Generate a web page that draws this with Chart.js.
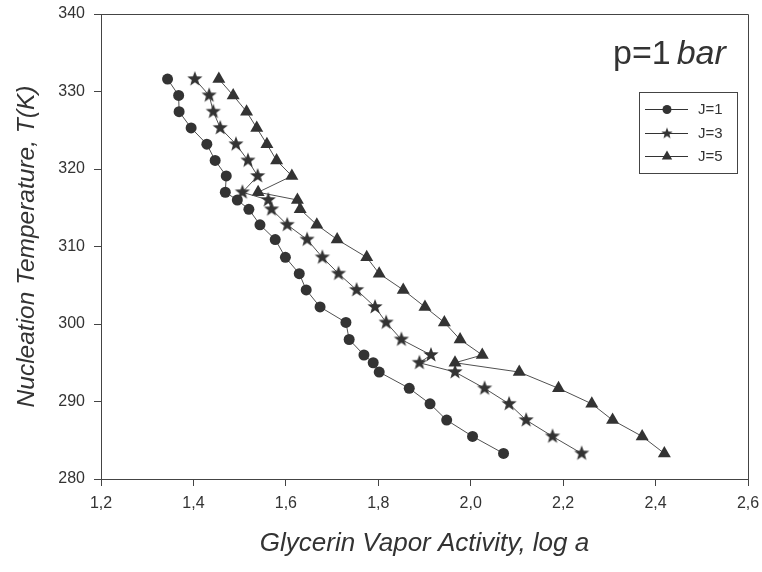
<!DOCTYPE html>
<html>
<head>
<meta charset="utf-8">
<script src="https://cdn.jsdelivr.net/npm/chart.js"></script>
<style>
  html, body { margin: 0; padding: 0; background: #ffffff; }
  #wrap { position: relative; width: 762px; height: 572px; }
</style>
</head>
<body>
<div id="wrap"><canvas id="c" width="762" height="572"></canvas></div>
<script>
// ---- Data ----
const seriesLabels = ['J=1', 'J=3', 'J=5'];
const temperatures = [331.6, 329.5, 327.4, 325.3, 323.2, 321.1, 319.1, 317.0, 316.0, 314.8,
                      312.8, 310.9, 308.6, 306.5, 304.4, 302.2, 300.2, 298.0, 296.0, 295.0,
                      293.8, 291.7, 289.7, 287.6, 285.5, 283.3];
const activityJ1 = [1.344, 1.368, 1.369, 1.395, 1.429, 1.447, 1.471, 1.469, 1.495, 1.520,
                    1.544, 1.577, 1.599, 1.629, 1.644, 1.674, 1.730, 1.737, 1.769, 1.789,
                    1.802, 1.867, 1.912, 1.948, 2.004, 2.071];
const activityJ3 = [1.403, 1.434, 1.443, 1.458, 1.492, 1.518, 1.539, 1.506, 1.562, 1.569,
                    1.603, 1.646, 1.679, 1.714, 1.753, 1.793, 1.817, 1.850, 1.914, 1.889,
                    1.966, 2.030, 2.083, 2.120, 2.177, 2.240];
const activityJ5 = [1.455, 1.486, 1.515, 1.537, 1.559, 1.580, 1.613, 1.540, 1.625, 1.631,
                    1.667, 1.711, 1.775, 1.802, 1.854, 1.901, 1.943, 1.977, 2.025, 1.966,
                    2.105, 2.190, 2.262, 2.307, 2.371, 2.419];
const xTicks = [1.2, 1.4, 1.6, 1.8, 2.0, 2.2, 2.4, 2.6];
const yTicks = [280, 290, 300, 310, 320, 330, 340];

// ---- Styles ----
const MARK = '#333333';
const LINE = '#505050';
const AXIS = '#444444';
const TEXT = '#333333';
const FONT = "'Liberation Sans', Arial, sans-serif";

function makeStar(size, outer, inner, color) {
  const c = document.createElement('canvas');
  c.width = size; c.height = size;
  const g = c.getContext('2d');
  const cx = size / 2, cy = size / 2;
  g.beginPath();
  for (let i = 0; i < 10; i++) {
    const r = i % 2 === 0 ? outer : inner;
    const a = -Math.PI / 2 + i * Math.PI / 5;
    const px = cx + r * Math.cos(a), py = cy + r * Math.sin(a);
    if (i === 0) g.moveTo(px, py); else g.lineTo(px, py);
  }
  g.closePath();
  g.fillStyle = color;
  g.fill();
  return c;
}
const starImg = makeStar(18, 8, 3.3, MARK);
const starSmall = makeStar(14, 6, 2.5, MARK);

function toPoints(xs) { return xs.map((x, i) => ({ x: x, y: temperatures[i] })); }

const styles = [
  { pointStyle: 'circle', radius: 5.5 },
  { pointStyle: starImg, radius: 8 },
  { pointStyle: 'triangle', radius: 7.5 }
];
const seriesX = [activityJ1, activityJ3, activityJ5];

const datasets = seriesX.map((xs, i) => ({
  label: seriesLabels[i],
  data: toPoints(xs),
  showLine: true,
  borderColor: LINE,
  borderWidth: 1,
  tension: 0,
  pointStyle: styles[i].pointStyle,
  pointRadius: styles[i].radius,
  pointBackgroundColor: MARK,
  pointBorderColor: MARK,
  pointBorderWidth: 0,
  clip: false
}));

const decorPlugin = {
  id: 'decor',
  afterDraw(chart) {
    const ctx = chart.ctx;
    const a = chart.chartArea;
    ctx.save();
    // top and right frame lines
    ctx.strokeStyle = AXIS;
    ctx.lineWidth = 1;
    ctx.beginPath();
    ctx.moveTo(Math.round(a.left) + 0.5, Math.round(a.top) + 0.5);
    ctx.lineTo(Math.round(a.right) + 0.5, Math.round(a.top) + 0.5);
    ctx.lineTo(Math.round(a.right) + 0.5, Math.round(a.bottom) + 0.5);
    ctx.stroke();

    // annotation "p=1 bar"
    ctx.fillStyle = TEXT;
    ctx.textBaseline = 'alphabetic';
    ctx.textAlign = 'left';
    ctx.font = "34px " + FONT;
    const t1 = 'p=1';
    ctx.fillText(t1, 613, 64);
    const w1 = ctx.measureText(t1).width;
    ctx.font = "italic 34px " + FONT;
    ctx.fillText('bar', 613 + w1 + 6, 64);

    // legend box
    const lx = 639, ly = 92, lw = 98, lh = 81;
    ctx.strokeStyle = AXIS;
    ctx.strokeRect(lx + 0.5, ly + 0.5, lw, lh);
    const rows = [109, 133, 156];
    ctx.font = "15px " + FONT;
    ctx.textBaseline = 'middle';
    rows.forEach((ry, i) => {
      ctx.strokeStyle = '#333';
      ctx.lineWidth = 1;
      ctx.beginPath();
      ctx.moveTo(645, ry + 0.5);
      ctx.lineTo(688, ry + 0.5);
      ctx.stroke();
      ctx.fillStyle = MARK;
      const mx = 667;
      if (i === 0) {
        ctx.beginPath(); ctx.arc(mx, ry + 0.5, 4.5, 0, Math.PI * 2); ctx.fill();
      } else if (i === 1) {
        ctx.drawImage(starSmall, mx - 7, ry + 0.5 - 7);
      } else {
        const r = 6;
        ctx.beginPath();
        ctx.moveTo(mx, ry + 0.5 - r);
        ctx.lineTo(mx + r * Math.sin(2 * Math.PI / 3), ry + 0.5 + r / 2);
        ctx.lineTo(mx - r * Math.sin(2 * Math.PI / 3), ry + 0.5 + r / 2);
        ctx.closePath(); ctx.fill();
      }
      ctx.fillStyle = TEXT;
      ctx.fillText(chart.data.datasets[i].label, 698, ry + 1);
    });
    ctx.restore();
  }
};

new Chart(document.getElementById('c'), {
  type: 'scatter',
  data: { datasets: datasets },
  plugins: [decorPlugin],
  options: {
    responsive: false,
    animation: false,
    layout: { padding: { top: 14, right: 14, left: 0, bottom: 0 } },
    plugins: { legend: { display: false }, tooltip: { enabled: false } },
    scales: {
      x: {
        type: 'linear',
        min: xTicks[0], max: xTicks[xTicks.length - 1],
        afterFit(scale) { scale.height = 93; scale.paddingLeft = 0; scale.paddingRight = 0; },
        afterBuildTicks(scale) { scale.ticks = xTicks.map(v => ({ value: v })); },
        ticks: {
          color: TEXT, font: { family: FONT, size: 16 }, padding: 8,
          callback: v => Number(v).toFixed(1).replace('.', ',')
        },
        grid: { display: true, drawOnChartArea: false, drawTicks: true, tickLength: 7, color: AXIS },
        border: { display: true, color: AXIS, width: 1 },
        title: {
          display: true, text: 'Glycerin Vapor Activity, log a', color: TEXT,
          font: { family: FONT, size: 26, style: 'italic' },
          padding: { top: 0, bottom: 13 }
        }
      },
      y: {
        type: 'linear',
        min: yTicks[0], max: yTicks[yTicks.length - 1],
        afterFit(scale) { scale.width = 101; scale.paddingTop = 0; scale.paddingBottom = 0; },
        afterBuildTicks(scale) { scale.ticks = yTicks.map(v => ({ value: v })); },
        ticks: { color: TEXT, font: { family: FONT, size: 16 }, padding: 9 },
        grid: { display: true, drawOnChartArea: false, drawTicks: true, tickLength: 7, color: AXIS },
        border: { display: true, color: AXIS, width: 1 },
        title: {
          display: true, text: 'Nucleation Temperature, T(K)', color: TEXT,
          font: { family: FONT, size: 24.5, style: 'italic' },
          padding: { top: 12, bottom: 0 }
        }
      }
    }
  }
});
</script>
</body>
</html>
